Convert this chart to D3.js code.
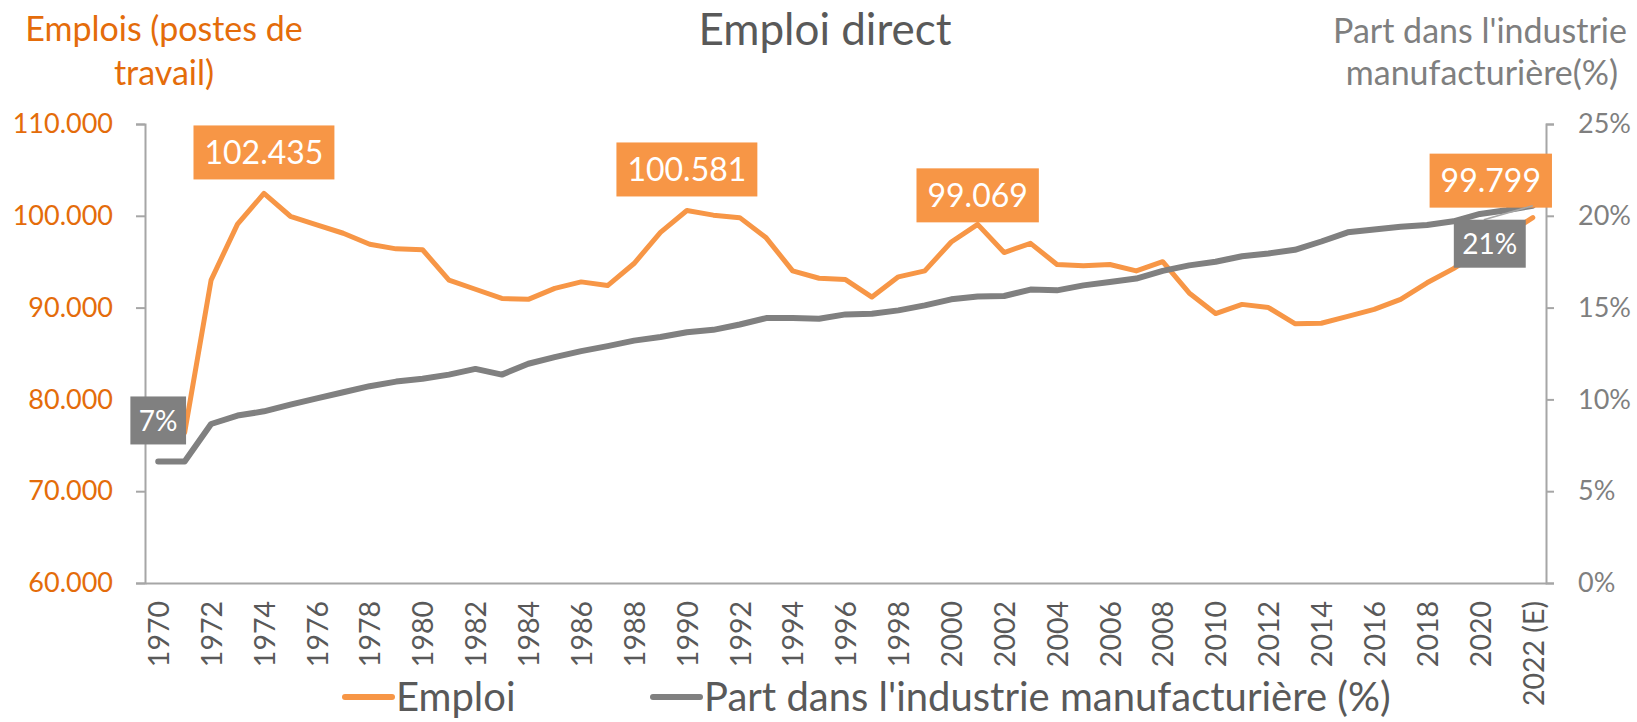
<!DOCTYPE html>
<html>
<head>
<meta charset="utf-8">
<script src="https://cdn.jsdelivr.net/npm/d3@7"></script>
<style>
  body { margin: 0; background: #fff; }
  svg { display: block; font-family: Lato, sans-serif; }
</style>
</head>
<body>
<div id="chart"></div>
<script>
// categories (last year is an estimate)
const years = d3.range(1970, 2022).map(String).concat(["2022 (E)"]);

// Emploi (postes de travail)
const emploi = [76000, 76400, 93000, 99100, 102435, 99950, 99000, 98100, 96900, 96400,
  96300, 93000, 92000, 91000, 90900, 92100, 92800, 92400, 94800, 98200,
  100581, 100070, 99800, 97600, 94000, 93200, 93050, 91150, 93350, 94000,
  97150, 99069, 96000, 97000, 94700, 94550, 94700, 94000, 95000, 91600,
  89350, 90350, 90000, 88250, 88300, 89050, 89800, 90900, 92700, 94250,
  96100, 97950, 99799];

// Part dans l'industrie manufacturiere (%)
const part = [6.62, 6.62, 8.66, 9.12, 9.35, 9.72, 10.06, 10.39, 10.72, 10.97,
  11.12, 11.35, 11.66, 11.35, 11.94, 12.3, 12.63, 12.9, 13.2, 13.4,
  13.66, 13.79, 14.08, 14.43, 14.43, 14.39, 14.63, 14.66, 14.85, 15.12,
  15.45, 15.61, 15.63, 15.98, 15.94, 16.21, 16.39, 16.58, 17.0, 17.3,
  17.5, 17.8, 17.95, 18.15, 18.6, 19.1, 19.25, 19.4, 19.5, 19.7,
  20.1, 20.3, 20.55];

const leftTicks = [60000, 70000, 80000, 90000, 100000, 110000];
const rightTicks = [0, 5, 10, 15, 20, 25];

// which points get a data label, and where the label box sits
const labels = [
  {series: "emploi", year: "1974", dx: 0, dy: -41},
  {series: "emploi", year: "1990", dx: 0, dy: -41},
  {series: "emploi", year: "2001", dx: 0, dy: -29},
  {series: "emploi", year: "2022 (E)", dx: -42, dy: -37},
  {series: "part", year: "1970", dx: 0, dy: -41},
  {series: "part", year: "2022 (E)", dx: -43, dy: 38, leader: true}
];

const W = 1637, H = 722;
const plot = {left: 145, right: 1546, top: 124, bottom: 583};
const orange = "#F79646", orangeText = "#E46C0A", grey = "#808080", axisCol = "#A6A6A6", textCol = "#595959";

const fr = d3.formatLocale({decimal: ",", thousands: ".", grouping: [3], currency: ["", ""]});
const fmt = fr.format(",.0f");

const svg = d3.select("#chart").append("svg")
  .attr("width", W)
  .attr("height", H);

const x = d3.scalePoint().domain(years).range([plot.left, plot.right]).padding(0.5);
const y = d3.scaleLinear().domain([60000, 110000]).range([plot.bottom, plot.top]);
const y2 = d3.scaleLinear().domain([0, 25]).range([plot.bottom, plot.top]);

// left axis
const gl = svg.append("g")
  .attr("transform", `translate(${plot.left},0)`)
  .call(d3.axisLeft(y).tickValues(leftTicks).tickFormat(fmt).tickSize(9).tickPadding(23))
  .attr("font-family", null).attr("font-size", null);
gl.selectAll("path, line").attr("stroke", axisCol).attr("stroke-width", 2);
gl.selectAll("text").attr("fill", orangeText).style("font-size", "27px");

// right axis
const gr = svg.append("g")
  .attr("transform", `translate(${plot.right},0)`)
  .call(d3.axisRight(y2).tickValues(rightTicks).tickFormat(d => d + "%").tickSize(8).tickPadding(24))
  .attr("font-family", null).attr("font-size", null);
gr.selectAll("path, line").attr("stroke", axisCol).attr("stroke-width", 2);
gr.selectAll("text").attr("fill", "#7F7F7F").style("font-size", "27px");

// bottom axis
const gb = svg.append("g")
  .attr("transform", `translate(0,${plot.bottom})`)
  .call(d3.axisBottom(x).tickValues(years.filter((d, i) => i % 2 === 0)).tickSize(0).tickSizeOuter(0))
  .attr("font-family", null).attr("font-size", null);
gb.select(".domain").attr("stroke", axisCol).attr("stroke-width", 2);
gb.selectAll("text")
  .attr("transform", "rotate(-90)")
  .attr("text-anchor", "end")
  .attr("x", -18)
  .attr("y", 0)
  .attr("dy", "0.36em")
  .attr("fill", textCol)
  .style("font-size", "28.5px");

// lines
const lineEmploi = d3.line().x((d, i) => x(years[i])).y(d => y(d));
const linePart = d3.line().x((d, i) => x(years[i])).y(d => y2(d));

svg.append("path")
  .datum(emploi)
  .attr("d", lineEmploi)
  .attr("fill", "none")
  .attr("stroke", orange)
  .attr("stroke-width", 5)
  .attr("stroke-linejoin", "round")
  .attr("stroke-linecap", "round");

svg.append("path")
  .datum(part)
  .attr("d", linePart)
  .attr("fill", "none")
  .attr("stroke", grey)
  .attr("stroke-width", 6)
  .attr("stroke-linejoin", "round")
  .attr("stroke-linecap", "round");

// data labels
labels.forEach(l => {
  const i = years.indexOf(l.year);
  const isE = l.series === "emploi";
  const v = isE ? emploi[i] : part[i];
  const px = x(l.year), py = isE ? y(v) : y2(v);
  const cx = px + l.dx, cy = py + l.dy;
  const g = svg.append("g");
  const t = g.append("text")
    .attr("x", cx).attr("y", cy).attr("dy", "0.36em")
    .attr("text-anchor", "middle")
    .attr("fill", "#fff")
    .style("font-size", isE ? "32px" : "28px")
    .text(isE ? fmt(v) : Math.round(v) + "%");
  const tw = t.node().getComputedTextLength();
  const bw = tw + (isE ? 22 : 17), bh = isE ? 54 : 48;
  if (l.leader) {
    g.insert("line", "text")
      .attr("x1", cx - 6).attr("y1", cy - bh / 2)
      .attr("x2", px).attr("y2", py)
      .attr("stroke", axisCol).attr("stroke-width", 1.5);
  }
  g.insert("rect", "text")
    .attr("x", cx - bw / 2).attr("y", cy - bh / 2)
    .attr("width", bw).attr("height", bh)
    .attr("fill", isE ? orange : grey);
});

// title
svg.append("text")
  .attr("x", 825).attr("y", 45)
  .attr("text-anchor", "middle")
  .attr("fill", textCol)
  .style("font-size", "44px")
  .text("Emploi direct");

// axis titles
const lt = svg.append("text").attr("text-anchor", "middle").attr("fill", orangeText).style("font-size", "34px");
lt.append("tspan").attr("x", 164).attr("y", 41).text("Emplois (postes de");
lt.append("tspan").attr("x", 164).attr("y", 85).text("travail)");

const rt = svg.append("text").attr("text-anchor", "middle").attr("fill", "#7F7F7F").style("font-size", "34px");
rt.append("tspan").attr("x", 1480).attr("y", 43).text("Part dans l'industrie");
rt.append("tspan").attr("x", 1482).attr("y", 85).text("manufacturière(%)");

// legend
const legend = [
  {name: "Emploi", color: orange, x: 345},
  {name: "Part dans l'industrie manufacturière (%)", color: grey, x: 653}
];
const lg = svg.append("g").selectAll("g").data(legend).join("g")
  .attr("transform", d => `translate(${d.x},697)`);
lg.append("line")
  .attr("x1", 0).attr("x2", 47)
  .attr("stroke", d => d.color)
  .attr("stroke-width", 6)
  .attr("stroke-linecap", "round");
lg.append("text")
  .attr("x", 51).attr("dy", "0.36em")
  .attr("fill", textCol)
  .style("font-size", "40px")
  .text(d => d.name);
</script>
</body>
</html>
